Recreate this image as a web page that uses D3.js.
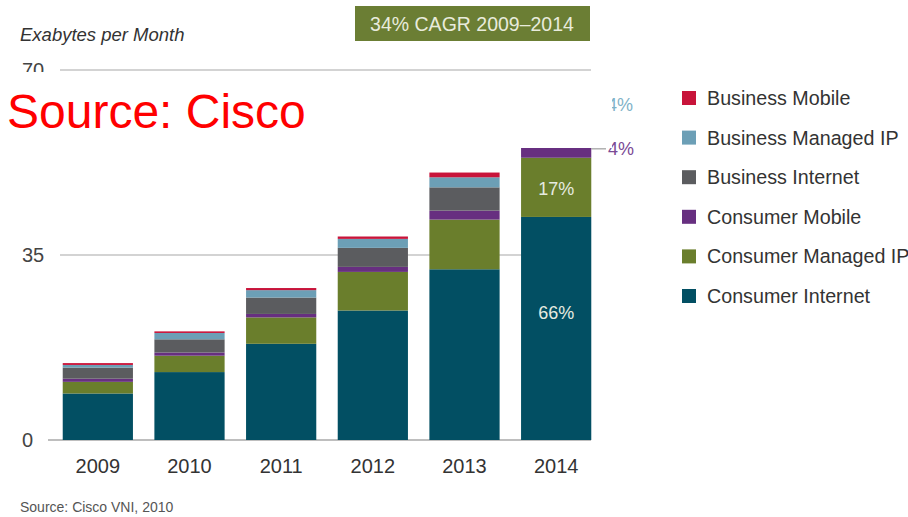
<!DOCTYPE html>
<html>
<head>
<meta charset="utf-8">
<script src="https://cdn.jsdelivr.net/npm/d3@7"></script>
<style>
  html, body { margin: 0; padding: 0; background: #ffffff; }
  svg { display: block; font-family: "Liberation Sans", Arial, sans-serif; }
</style>
</head>
<body>
<svg id="chart" width="908" height="517"></svg>
<script>
// ---- data ----
const years = ["2009", "2010", "2011", "2012", "2013", "2014"];
const seriesNames = ["Consumer Internet", "Consumer Managed IP", "Consumer Mobile",
                     "Business Internet", "Business Managed IP", "Business Mobile"];
const consumerInternet  = [8.8, 12.85, 18.2, 24.5, 32.3, 42.2];
const consumerManagedIP = [2.2, 3.1, 5.0, 7.3, 9.4, 11.2];
const consumerMobile    = [0.6, 0.6, 0.65, 0.95, 1.7, 2.6];
const businessInternet  = [2.1, 2.5, 3.1, 3.6, 4.4, 4.6];
const businessManagedIP = [0.5, 1.2, 1.4, 1.7, 1.9, 2.6];
const businessMobile    = [0.35, 0.3, 0.4, 0.45, 0.9, 0.7];
const yTicks = [0, 35, 70];
const legendOrder = ["Business Mobile", "Business Managed IP", "Business Internet",
                     "Consumer Mobile", "Consumer Managed IP", "Consumer Internet"];
const colors = {
  "Consumer Internet": "#024f63",
  "Consumer Managed IP": "#6a7e2c",
  "Consumer Mobile": "#672f80",
  "Business Internet": "#5b5c5f",
  "Business Managed IP": "#6c9fb6",
  "Business Mobile": "#c8143a"
};
// label text and the value (exabytes) at which it sits inside the bar
const segLabels = [
  {year: "2014", series: "Consumer Internet", text: "66%", at: 24},
  {year: "2014", series: "Consumer Managed IP", text: "17%", at: 47.6}
];

// ---- build table ----
const seriesValues = [consumerInternet, consumerManagedIP, consumerMobile,
                      businessInternet, businessManagedIP, businessMobile];
const table = years.map((y, i) => {
  const row = {year: y};
  seriesNames.forEach((s, j) => row[s] = seriesValues[j][i]);
  return row;
});
const stacked = d3.stack().keys(seriesNames)(table);

const svg = d3.select("#chart");
const x = d3.scaleBand().domain(years).range([52, 602]).paddingInner(0.234).paddingOuter(0.117);
const y = d3.scaleLinear().domain([0, 70]).range([440, 70]);

// gridlines
svg.append("g").selectAll("line").data(yTicks).join("line")
  .attr("x1", d => d === 0 ? 48 : 60).attr("x2", 591)
  .attr("y1", d => y(d)).attr("y2", d => y(d))
  .attr("stroke", d => d === 0 ? "#a8a8a8" : "#c4c4c4")
  .attr("stroke-width", 1.5);

// y tick labels
svg.append("g").selectAll("text").data(yTicks).join("text")
  .attr("x", 22).attr("y", d => y(d)).attr("dy", "0.35em")
  .attr("font-size", 20).attr("fill", "#444").text(d => d);

// bars
svg.append("g").selectAll("g").data(stacked).join("g")
  .attr("fill", d => colors[d.key])
  .selectAll("rect").data(d => d).join("rect")
  .attr("x", d => x(d.data.year))
  .attr("width", x.bandwidth())
  .attr("y", d => y(d[1]))
  .attr("height", d => y(d[0]) - y(d[1]));

// segment labels
segLabels.forEach(l => {
  svg.append("text")
    .attr("x", x(l.year) + x.bandwidth() / 2)
    .attr("y", y(l.at)).attr("dy", "0.35em")
    .attr("text-anchor", "middle").attr("font-size", 18)
    .attr("fill", "#e6ebe0").text(l.text);
});

// x labels
svg.append("g").selectAll("text").data(years).join("text")
  .attr("x", d => x(d) + x.bandwidth() / 2).attr("y", 466).attr("dy", "0.35em")
  .attr("text-anchor", "middle").attr("font-size", 20).attr("fill", "#333").text(d => d);

// outside labels for 2014 small segments
const bmip = stacked.find(k => k.key === "Business Managed IP").find(p => p.data.year === "2014");
const cmob = stacked.find(k => k.key === "Consumer Mobile").find(p => p.data.year === "2014");
svg.append("text").attr("x", 607).attr("y", y(bmip[1]) - 1).attr("dy", "0.35em")
  .attr("font-size", 18).attr("fill", "#7fb3c8").text("4%");
const cmY = y((cmob[0] + cmob[1]) / 2) - 2;
svg.append("line").attr("x1", x("2014") + x.bandwidth()).attr("x2", 606)
  .attr("y1", cmY).attr("y2", cmY)
  .attr("stroke", "#888").attr("stroke-width", 1);
svg.append("text").attr("x", 608).attr("y", cmY).attr("dy", "0.35em")
  .attr("font-size", 18).attr("fill", "#7a4a95").text("4%");

// y axis title
svg.append("text").attr("x", 20).attr("y", 41).attr("font-size", 18.5)
  .attr("font-style", "italic").attr("fill", "#333").text("Exabytes per Month");

// CAGR box
svg.append("rect").attr("x", 355).attr("y", 6).attr("width", 235).attr("height", 35).attr("fill", "#6b7e34");
svg.append("text").attr("x", 472).attr("y", 24).attr("dy", "0.35em").attr("text-anchor", "middle")
  .attr("font-size", 19.5).attr("fill", "#e8ebdc").text("34% CAGR 2009\u20132014");

// legend
const leg = svg.append("g").selectAll("g").data(legendOrder).join("g")
  .attr("transform", (d, i) => `translate(682, ${98 + i * 39.6})`);
leg.append("rect").attr("x", 0).attr("y", -7).attr("width", 14).attr("height", 14).attr("fill", d => colors[d]);
leg.append("text").attr("x", 25).attr("y", 0).attr("dy", "0.35em").attr("font-size", 19.7)
  .attr("fill", "#333").text(d => d);

// source
svg.append("text").attr("x", 20).attr("y", 512).attr("font-size", 14).attr("fill", "#555")
  .text("Source: Cisco VNI, 2010");

// white overlay with red caption
svg.append("rect").attr("x", 0).attr("y", 72).attr("width", 612).attr("height", 76).attr("fill", "#ffffff");
svg.append("text").attr("x", 7).attr("y", 128).attr("font-size", 48).attr("fill", "#ff0000")
  .text("Source: Cisco");
</script>
</body>
</html>
